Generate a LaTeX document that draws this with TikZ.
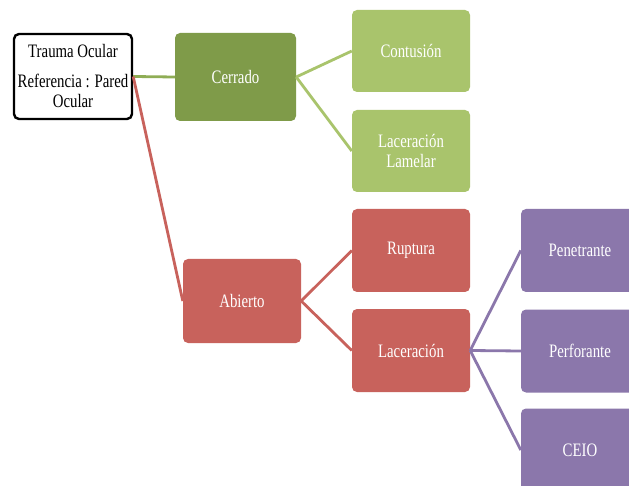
\documentclass[tikz,border=0pt]{standalone}
\usepackage{fontspec}
\setmainfont[FakeStretch=0.78]{Liberation Serif}
\definecolor{dkgreen}{HTML}{7F9B49}
\definecolor{ltgreen}{HTML}{A9C46C}
\definecolor{midgreen}{HTML}{8FAD55}
\definecolor{myred}{HTML}{C8625C}
\definecolor{mypurple}{HTML}{8B77AB}
\tikzset{
  box/.style={rounded corners=5pt, minimum width=118pt, minimum height=83pt, inner sep=0pt,
    align=center, text=white, font=\fontsize{19}{20.5}\selectfont},
  conn/.style={line width=2.8pt},
}
\begin{document}
\begin{tikzpicture}[x=1pt,y=-1pt]
\clip (0,0) rectangle (629,486);
\fill[white] (0,0) rectangle (629,486);
\node[box, draw=black, line width=2.4pt, fill=white, text=black, minimum width=118pt, minimum height=85pt] (root) at (73,76.5)
  {Trauma Ocular\\[9pt]Referencia : Pared\\Ocular};
\node[box, fill=dkgreen, minimum width=121pt, minimum height=88pt] (cer) at (235.5,77) {Cerrado};
\node[box, fill=ltgreen, minimum height=82pt] (con) at (411,51) {Contusión};
\node[box, fill=ltgreen, minimum height=82pt] (lam) at (411,151) {Laceración\\Lamelar};
\node[box, fill=myred, minimum height=84pt] (abi) at (242,301) {Abierto};
\node[box, fill=myred] (rup) at (411,250.5) {Ruptura};
\node[box, fill=myred] (lac) at (411,350.5) {Laceración};
\node[box, fill=mypurple] (pen) at (580,250.5) {Penetrante};
\node[box, fill=mypurple] (per) at (580,351) {Perforante};
\node[box, fill=mypurple] (ceio) at (580,450) {CEIO};
\draw[conn, midgreen] (root.east) -- (cer.west);
\draw[conn, myred] (root.east) -- (abi.west);
\draw[conn, ltgreen] (cer.east) -- (con.west);
\draw[conn, ltgreen] (cer.east) -- (lam.west);
\draw[conn, myred] (abi.east) -- (rup.west);
\draw[conn, myred] (abi.east) -- (lac.west);
\draw[conn, mypurple] (lac.east) -- (pen.west);
\draw[conn, mypurple] (lac.east) -- (per.west);
\draw[conn, mypurple] (lac.east) -- (ceio.west);
\end{tikzpicture}
\end{document}
